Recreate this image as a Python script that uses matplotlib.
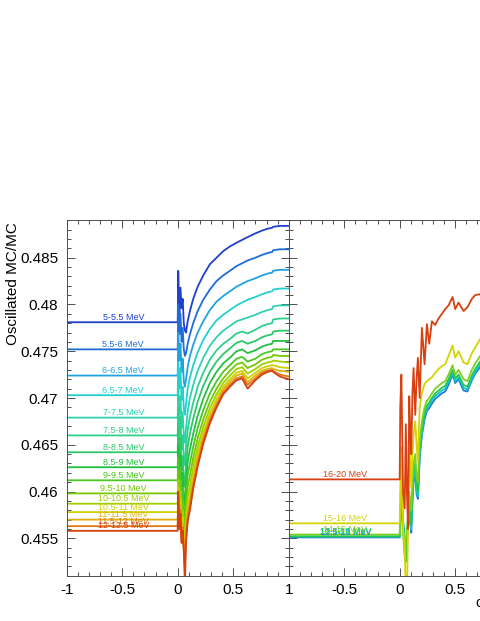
import matplotlib
matplotlib.use("Agg")
import matplotlib.pyplot as plt
from matplotlib.ticker import MultipleLocator

plt.rcParams['font.family'] = ['Liberation Sans', 'DejaVu Sans']
plt.rcParams['axes.unicode_minus'] = False

# ---- left pad: 5 - 12.5 MeV ----
left_labels = ["5-5.5 MeV", "5.5-6 MeV", "6-6.5 MeV", "6.5-7 MeV", "7-7.5 MeV",
               "7.5-8 MeV", "8-8.5 MeV", "8.5-9 MeV", "9-9.5 MeV", "9.5-10 MeV",
               "10-10.5 MeV", "10.5-11 MeV", "11-11.5 MeV", "11.5-12 MeV", "12-12.5 MeV"]
left_levels = [0.4781, 0.4752, 0.4724, 0.4703, 0.4679, 0.4660, 0.4642, 0.4626,
               0.4612, 0.4598, 0.4587, 0.4578, 0.4570, 0.4563, 0.4558]
left_colors = ["#1f3fcf", "#1f6cd8", "#1fa2e0", "#22d0d0", "#2ed2b0", "#2ed08c",
               "#2cc86a", "#22c040", "#48c820", "#74c800", "#a2d000", "#cfd000",
               "#e0b010", "#e07818", "#d44010"]

near_x = [0.005, 0.015, 0.025, 0.035, 0.045, 0.055, 0.065, 0.075, 0.09]
rise_x = [0.11, 0.14, 0.18, 0.23, 0.29, 0.35, 0.41, 0.47, 0.53, 0.58, 0.63,
          0.7, 0.76, 0.81, 0.85, 0.86, 0.92, 1.0]

left_near = [
    [0.4836, 0.4790, 0.4818, 0.4796, 0.4806, 0.4780, 0.4772, 0.4770, 0.4782],
    [0.4800, 0.4768, 0.4790, 0.4760, 0.4775, 0.4752, 0.4745, 0.4748, 0.4758],
    [0.4770, 0.4740, 0.4758, 0.4728, 0.4742, 0.4718, 0.4712, 0.4720, 0.4733],
    [0.4738, 0.4710, 0.4732, 0.4698, 0.4712, 0.4688, 0.4682, 0.4694, 0.4710],
    [0.4712, 0.4682, 0.4702, 0.4668, 0.4685, 0.4660, 0.4652, 0.4668, 0.4686],
    [0.4690, 0.4660, 0.4680, 0.4645, 0.4660, 0.4635, 0.4628, 0.4648, 0.4666],
    [0.4668, 0.4638, 0.4658, 0.4622, 0.4638, 0.4612, 0.4605, 0.4628, 0.4648],
    [0.4650, 0.4620, 0.4640, 0.4602, 0.4620, 0.4592, 0.4585, 0.4610, 0.4632],
    [0.4636, 0.4605, 0.4625, 0.4588, 0.4604, 0.4577, 0.4570, 0.4595, 0.4618],
    [0.4622, 0.4592, 0.4612, 0.4575, 0.4590, 0.4565, 0.4558, 0.4582, 0.4605],
    [0.4612, 0.4582, 0.4600, 0.4565, 0.4580, 0.4555, 0.4548, 0.4572, 0.4594],
    [0.4604, 0.4574, 0.4592, 0.4558, 0.4572, 0.4548, 0.4540, 0.4564, 0.4585],
    [0.4598, 0.4568, 0.4585, 0.4552, 0.4566, 0.4542, 0.4530, 0.4556, 0.4578],
    [0.4594, 0.4564, 0.4580, 0.4548, 0.4562, 0.4538, 0.4520, 0.4550, 0.4572],
    [0.4600, 0.4560, 0.4576, 0.4545, 0.4558, 0.4535, 0.4500, 0.4546, 0.4568],
]
left_rise = [
    [0.4793, 0.4806, 0.4819, 0.4831, 0.4843, 0.4850, 0.4857, 0.4862, 0.4866, 0.4869, 0.4872, 0.4876, 0.4879, 0.4881, 0.4882, 0.4883, 0.4884, 0.4884],
    [0.4768, 0.4780, 0.4793, 0.4805, 0.4816, 0.4825, 0.4831, 0.4836, 0.4841, 0.4844, 0.4847, 0.4850, 0.4853, 0.4855, 0.4856, 0.4858, 0.4859, 0.4859],
    [0.4745, 0.4757, 0.4770, 0.4782, 0.4794, 0.4803, 0.4809, 0.4814, 0.4819, 0.4822, 0.4825, 0.4828, 0.4831, 0.4833, 0.4834, 0.4836, 0.4837, 0.4837],
    [0.4722, 0.4735, 0.4749, 0.4762, 0.4774, 0.4783, 0.4789, 0.4794, 0.4799, 0.4802, 0.4805, 0.4808, 0.4811, 0.4813, 0.4814, 0.4816, 0.4817, 0.4817],
    [0.4700, 0.4714, 0.4729, 0.4743, 0.4756, 0.4765, 0.4772, 0.4777, 0.4782, 0.4784, 0.4786, 0.4789, 0.4792, 0.4794, 0.4795, 0.4798, 0.4799, 0.4799],
    [0.4680, 0.4695, 0.4712, 0.4727, 0.4741, 0.4751, 0.4758, 0.4763, 0.4769, 0.4771, 0.4769, 0.4773, 0.4777, 0.4779, 0.4780, 0.4784, 0.4785, 0.4785],
    [0.4662, 0.4678, 0.4696, 0.4713, 0.4728, 0.4739, 0.4747, 0.4753, 0.4759, 0.4761, 0.4758, 0.4761, 0.4765, 0.4767, 0.4768, 0.4771, 0.4772, 0.4772],
    [0.4645, 0.4662, 0.4681, 0.4699, 0.4716, 0.4728, 0.4737, 0.4743, 0.4750, 0.4752, 0.4748, 0.4751, 0.4755, 0.4757, 0.4758, 0.4761, 0.4761, 0.4761],
    [0.4630, 0.4648, 0.4668, 0.4687, 0.4705, 0.4718, 0.4728, 0.4735, 0.4742, 0.4744, 0.4739, 0.4742, 0.4747, 0.4749, 0.4750, 0.4752, 0.4752, 0.4752],
    [0.4617, 0.4636, 0.4657, 0.4677, 0.4696, 0.4710, 0.4721, 0.4729, 0.4736, 0.4738, 0.4732, 0.4736, 0.4741, 0.4743, 0.4744, 0.4746, 0.4745, 0.4745],
    [0.4606, 0.4626, 0.4648, 0.4669, 0.4689, 0.4704, 0.4716, 0.4724, 0.4731, 0.4733, 0.4726, 0.4731, 0.4736, 0.4738, 0.4739, 0.4740, 0.4739, 0.4738],
    [0.4597, 0.4618, 0.4641, 0.4663, 0.4683, 0.4699, 0.4712, 0.4720, 0.4727, 0.4729, 0.4721, 0.4727, 0.4732, 0.4734, 0.4735, 0.4735, 0.4733, 0.4732],
    [0.4590, 0.4612, 0.4635, 0.4658, 0.4679, 0.4695, 0.4709, 0.4717, 0.4724, 0.4726, 0.4717, 0.4724, 0.4729, 0.4731, 0.4732, 0.4731, 0.4729, 0.4728],
    [0.4584, 0.4607, 0.4630, 0.4654, 0.4676, 0.4692, 0.4706, 0.4714, 0.4721, 0.4723, 0.4714, 0.4721, 0.4727, 0.4729, 0.4730, 0.4729, 0.4725, 0.4723],
    [0.4580, 0.4603, 0.4627, 0.4651, 0.4673, 0.4690, 0.4704, 0.4712, 0.4719, 0.4721, 0.4710, 0.4719, 0.4725, 0.4728, 0.4729, 0.4728, 0.4723, 0.4720],
]

# ---- right pad: 12.5 - 20 MeV ----
right_labels = ["12.5-13 MeV", "13-13.5 MeV", "13.5-14 MeV", "14-15 MeV", "15-16 MeV", "16-20 MeV"]
right_levels = [0.4551, 0.4552, 0.4552, 0.4554, 0.4566, 0.4613]
right_colors = ["#1f78e0", "#14c4c4", "#20c850", "#7cd020", "#d4d400", "#d84010"]

right_x = [0.005, 0.015, 0.03, 0.045, 0.055, 0.065, 0.075, 0.086, 0.095, 0.104,
           0.115, 0.125, 0.14, 0.152, 0.164, 0.18, 0.2, 0.224, 0.245, 0.266,
           0.29, 0.32, 0.35, 0.38, 0.41, 0.44, 0.476, 0.5, 0.53, 0.575,
           0.61, 0.65, 0.68, 0.725, 0.85, 1.0]
right_vals = [
    [0.4562, 0.4585, 0.4568, 0.4548, 0.4540, 0.4548, 0.4562, 0.4580, 0.4566, 0.4556, 0.4590, 0.4610, 0.4620, 0.4597, 0.4592, 0.4636, 0.4660, 0.4677, 0.4686, 0.4689, 0.4694, 0.4699, 0.4702, 0.4705, 0.4707, 0.4714, 0.4725, 0.4716, 0.4720, 0.4708, 0.4707, 0.4719, 0.4726, 0.4733, 0.4740, 0.4743],
    [0.4565, 0.4590, 0.4570, 0.4545, 0.4535, 0.4550, 0.4565, 0.4585, 0.4570, 0.4560, 0.4595, 0.4615, 0.4625, 0.4600, 0.4595, 0.4640, 0.4663, 0.4680, 0.4689, 0.4692, 0.4697, 0.4702, 0.4705, 0.4708, 0.4710, 0.4717, 0.4727, 0.4718, 0.4722, 0.4711, 0.4709, 0.4721, 0.4728, 0.4736, 0.4743, 0.4746],
    [0.4570, 0.4600, 0.4565, 0.4540, 0.4525, 0.4555, 0.4570, 0.4590, 0.4575, 0.4565, 0.4600, 0.4620, 0.4630, 0.4605, 0.4600, 0.4645, 0.4668, 0.4684, 0.4692, 0.4695, 0.4700, 0.4705, 0.4708, 0.4711, 0.4713, 0.4720, 0.4730, 0.4721, 0.4725, 0.4714, 0.4712, 0.4724, 0.4731, 0.4739, 0.4746, 0.4749],
    [0.4580, 0.4620, 0.4555, 0.4530, 0.4545, 0.4560, 0.4575, 0.4600, 0.4590, 0.4580, 0.4610, 0.4630, 0.4640, 0.4615, 0.4610, 0.4655, 0.4675, 0.4690, 0.4697, 0.4700, 0.4705, 0.4710, 0.4713, 0.4716, 0.4718, 0.4725, 0.4735, 0.4725, 0.4730, 0.4720, 0.4718, 0.4730, 0.4737, 0.4745, 0.4752, 0.4755],
    [0.4600, 0.4647, 0.4561, 0.4540, 0.4490, 0.4490, 0.4560, 0.4654, 0.4630, 0.4604, 0.4640, 0.4660, 0.4675, 0.4650, 0.4632, 0.4690, 0.4705, 0.4715, 0.4718, 0.4720, 0.4722, 0.4727, 0.4731, 0.4734, 0.4736, 0.4745, 0.4756, 0.4743, 0.4750, 0.4738, 0.4736, 0.4748, 0.4754, 0.4763, 0.4770, 0.4772],
    [0.4690, 0.4725, 0.4600, 0.4582, 0.4672, 0.4600, 0.4560, 0.4702, 0.4665, 0.4640, 0.4705, 0.4732, 0.4682, 0.4720, 0.4743, 0.4700, 0.4775, 0.4736, 0.4779, 0.4758, 0.4782, 0.4778, 0.4785, 0.4790, 0.4795, 0.4799, 0.4808, 0.4795, 0.4802, 0.4793, 0.4797, 0.4806, 0.4810, 0.4811, 0.4812, 0.4812],
]

yticks = [0.455, 0.46, 0.465, 0.47, 0.475, 0.48, 0.485]
ytick_labels = ["0.455", "0.46", "0.465", "0.47", "0.475", "0.48", "0.485"]
xticks = [-1, -0.5, 0, 0.5, 1]
xtick_labels = ["-1", "-0.5", "0", "0.5", "1"]

W, H = 480, 621
fig = plt.figure(figsize=(W / 100, H / 100), dpi=100)
ax_l = fig.add_axes([66.7 / W, 1 - 576 / H, 222 / W, 356 / H])
ax_r = fig.add_axes([288.7 / W, 1 - 576 / H, 222 / W, 356 / H])


def style(ax):
    ax.set_xlim(-1, 1)
    ax.set_ylim(0.45097, 0.48903)
    ax.set_xticks(xticks)
    ax.set_yticks(yticks)
    ax.xaxis.set_minor_locator(MultipleLocator(0.1))
    ax.yaxis.set_minor_locator(MultipleLocator(0.001))
    ax.tick_params(which='both', direction='in', top=True, right=True,
                   color='0.3', width=0.7, labelsize=11)
    ax.tick_params(which='major', length=6)
    ax.tick_params(which='minor', length=3)
    ax.tick_params(axis='x', pad=5)
    ax.tick_params(axis='y', pad=6)
    for sp in ax.spines.values():
        sp.set_color('0.3')
        sp.set_linewidth(0.7)


style(ax_l)
style(ax_r)
ax_l.set_xticklabels(xtick_labels)
ax_l.set_yticklabels(ytick_labels)
# right pad: its -1 sits under the left pad's 1, its 1 is off the picture
ax_r.set_xticklabels([""] + xtick_labels[1:4] + [""])
ax_r.set_yticklabels([])

for lab, lev, col, nv, rv in zip(left_labels, left_levels, left_colors, left_near, left_rise):
    ax_l.plot([-1, 0] + near_x + rise_x, [lev, lev] + nv + rv, color=col, lw=1.3)
    ax_l.text(-0.49, lev + 0.00005, lab, color=col, fontsize=6.5, ha='center', va='bottom')

for lab, lev, col, vals in zip(right_labels, right_levels, right_colors, right_vals):
    ax_r.plot([-1, 0] + right_x, [lev, lev] + vals, color=col, lw=1.3)
    ax_r.text(-0.49, lev + 0.00005, lab, color=col, fontsize=6.5, ha='center', va='bottom')

fig.text(13.5 / W, 1 - 222 / H, "Oscillated MC/MC", rotation=90, ha='center', va='top', fontsize=11)
fig.text(475 / W, 1 - 603 / H, "cos\u03b8", ha='left', va='center', fontsize=11)

fig.savefig("out.png", dpi=100)
